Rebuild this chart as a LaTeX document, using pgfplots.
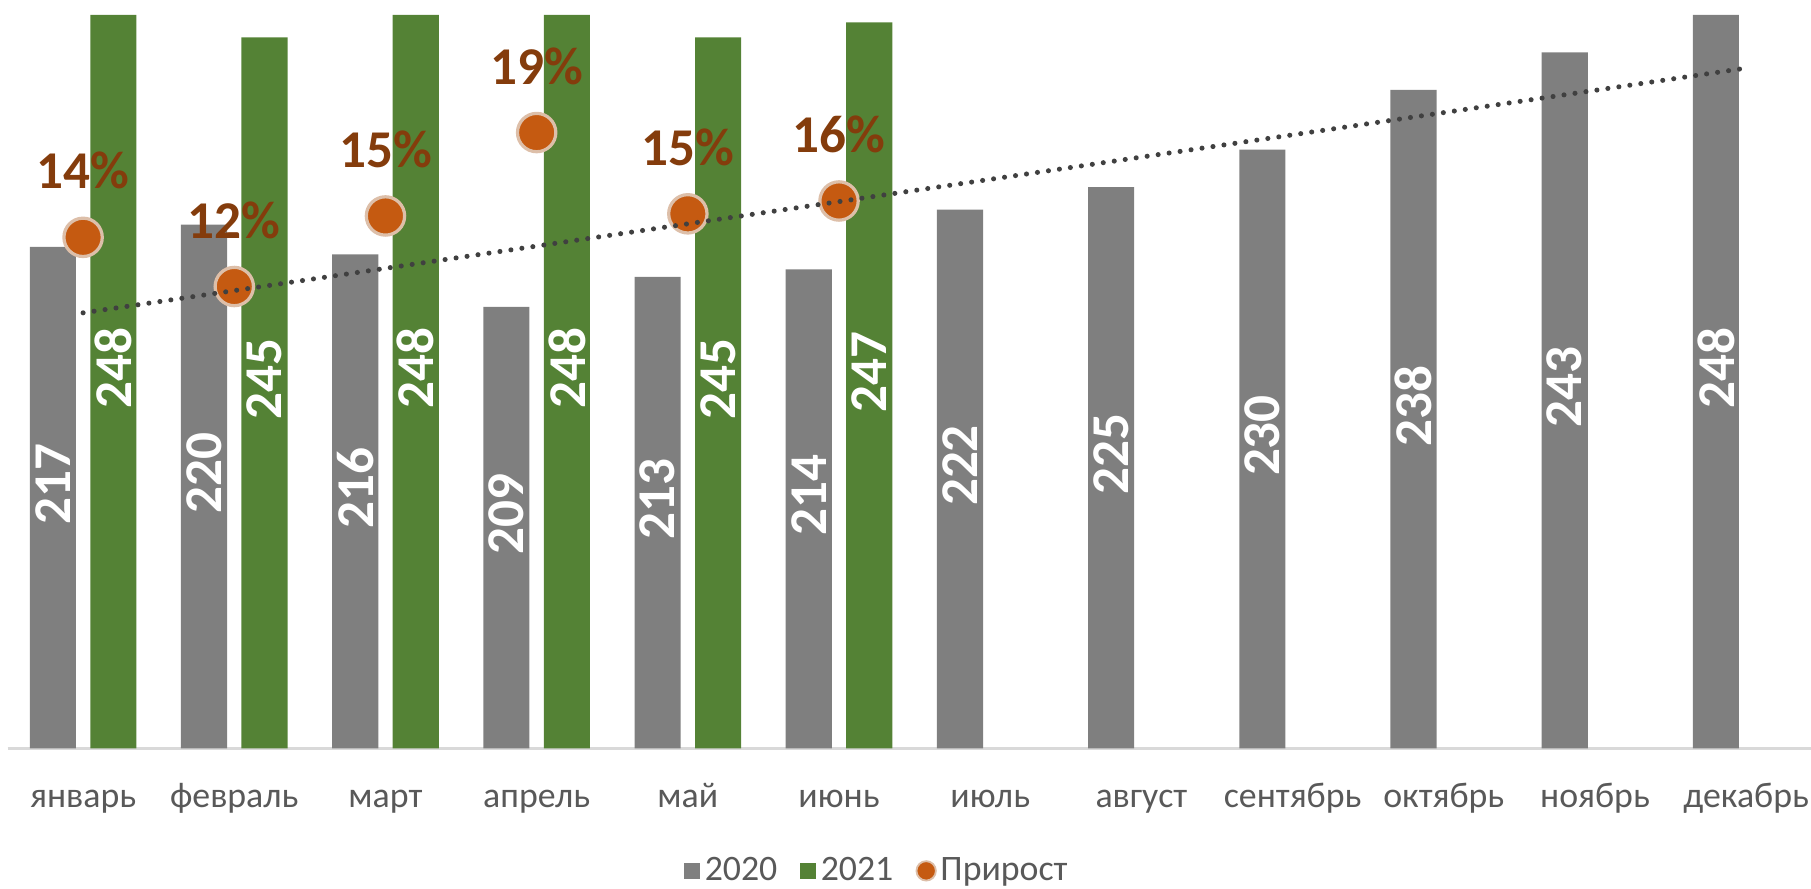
\documentclass[border=0pt]{standalone}
\usepackage{fontspec}
\setmainfont{Carlito}
\usepackage{pgfplots}
\usepackage{pgfplotstable}
\pgfplotsset{compat=1.18}

\definecolor{c2020}{HTML}{7F7F7F}
\definecolor{c2021}{HTML}{548235}
\definecolor{cgrow}{HTML}{C55A11}
\definecolor{cedge}{HTML}{DDBFA9}
\definecolor{cpct}{HTML}{843C0C}
\definecolor{ctick}{HTML}{595959}
\definecolor{cline}{HTML}{D9D9D9}
\definecolor{ctrend}{HTML}{404040}

% 2020 by month (0 = январь)
\pgfplotstableread{
x v
0 217
1 220
2 216
3 209
4 213
5 214
6 222
7 225
8 230
9 238
10 243
11 248
}\tA
% 2021
\pgfplotstableread{
x v
0 248
1 245
2 248
3 248
4 245
5 247
}\tB
% Прирост, %
\pgfplotstableread{
x g
0 13.9
1 11.6
2 14.9
3 18.8
4 15.0
5 15.6
}\tG

\begin{document}
\begin{tikzpicture}
\pgfplotsset{
  frame/.style={
    scale only axis, width=785.4pt, height=324pt,
    xmin=-0.5, xmax=11.5, at={(0,0)}, anchor=south west
  },
  barlabel/.style={
    draw=none, mark=none, forget plot,
    nodes near coords, point meta=explicit symbolic,
    every node near coord/.append style={rotate=90, anchor=center,
      text=white, font=\fontsize{23}{26}\selectfont\bfseries}
  }
}

\begin{axis}[frame, name=A,
  ymin=150, ymax=250,
  axis x line=bottom, axis y line=none,
  x axis line style={-, draw=cline, line width=1.3pt},
  xtick={0,...,11},
  xticklabels={январь,февраль,март,апрель,май,июнь,июль,август,сентябрь,октябрь,ноябрь,декабрь},
  major tick length=0pt,
  xticklabel style={anchor=base, yshift=-25.5pt, text=ctick,
    font=\fontsize{15.5}{18}\selectfont},
  legend columns=3,
  legend style={at={(0.480,-0.1636)}, anchor=center, draw=none,
    font=\fontsize{15.5}{18}\selectfont, text=ctick,
    /tikz/every odd column/.append style={column sep=0pt},
    /tikz/every even column/.append style={column sep=8pt}},
]
\addplot[ybar, bar width=0.305, bar shift=-0.2, fill=c2020, draw=none,
  legend image code/.code={\fill[c2020] (0pt,-3.4pt) rectangle (6.8pt,3.4pt);}]
  table[x=x, y=v]{\tA};
\addlegendentry{2020}
\addplot[ybar, bar width=0.305, bar shift=0.2, fill=c2021, draw=none,
  legend image code/.code={\fill[c2021] (0pt,-3.4pt) rectangle (6.8pt,3.4pt);}]
  table[x=x, y=v]{\tB};
\addlegendentry{2021}
\addlegendimage{only marks, mark=*, mark size=4.2pt,
  mark options={fill=cgrow, draw=cedge, line width=0.8pt}}
\addlegendentry{Прирост}

\addplot[barlabel] table[x expr=\thisrow{x}-0.2, y expr=(\thisrow{v}+150)/2+1.8, meta=v]{\tA};
\addplot[barlabel] table[x expr=\thisrow{x}+0.2, y expr=(\thisrow{v}+150)/2+1.8, meta=v]{\tB};
\end{axis}

\begin{axis}[frame, ymin=-10, ymax=25, hide axis]
\addplot[only marks, mark=*, mark size=8.3pt,
  mark options={fill=cgrow, draw=cedge, line width=1.4pt},
  nodes near coords={\pgfmathprintnumber[fixed, precision=0, assume math mode=true]{\pgfplotspointmeta}\%},
  every node near coord/.append style={anchor=base, yshift=21pt,
    text=cpct, font=\fontsize{23}{26}\selectfont\bfseries}]
  table[x=x, y=g]{\tG};
\end{axis}

\begin{axis}[frame, ymin=150, ymax=250, hide axis]
% linear trend of 2020
\addplot[ctrend, line width=2.2pt, line cap=round, dash pattern=on 0pt off 4.8pt]
  coordinates {(0,208.2) (11,240.9)};
\end{axis}

\pgfresetboundingbox
\path[use as bounding box] ([xshift=-3.25pt,yshift=-60.5pt]A.south west)
  rectangle ([xshift=780.75pt]A.north west);
\end{tikzpicture}
\end{document}
